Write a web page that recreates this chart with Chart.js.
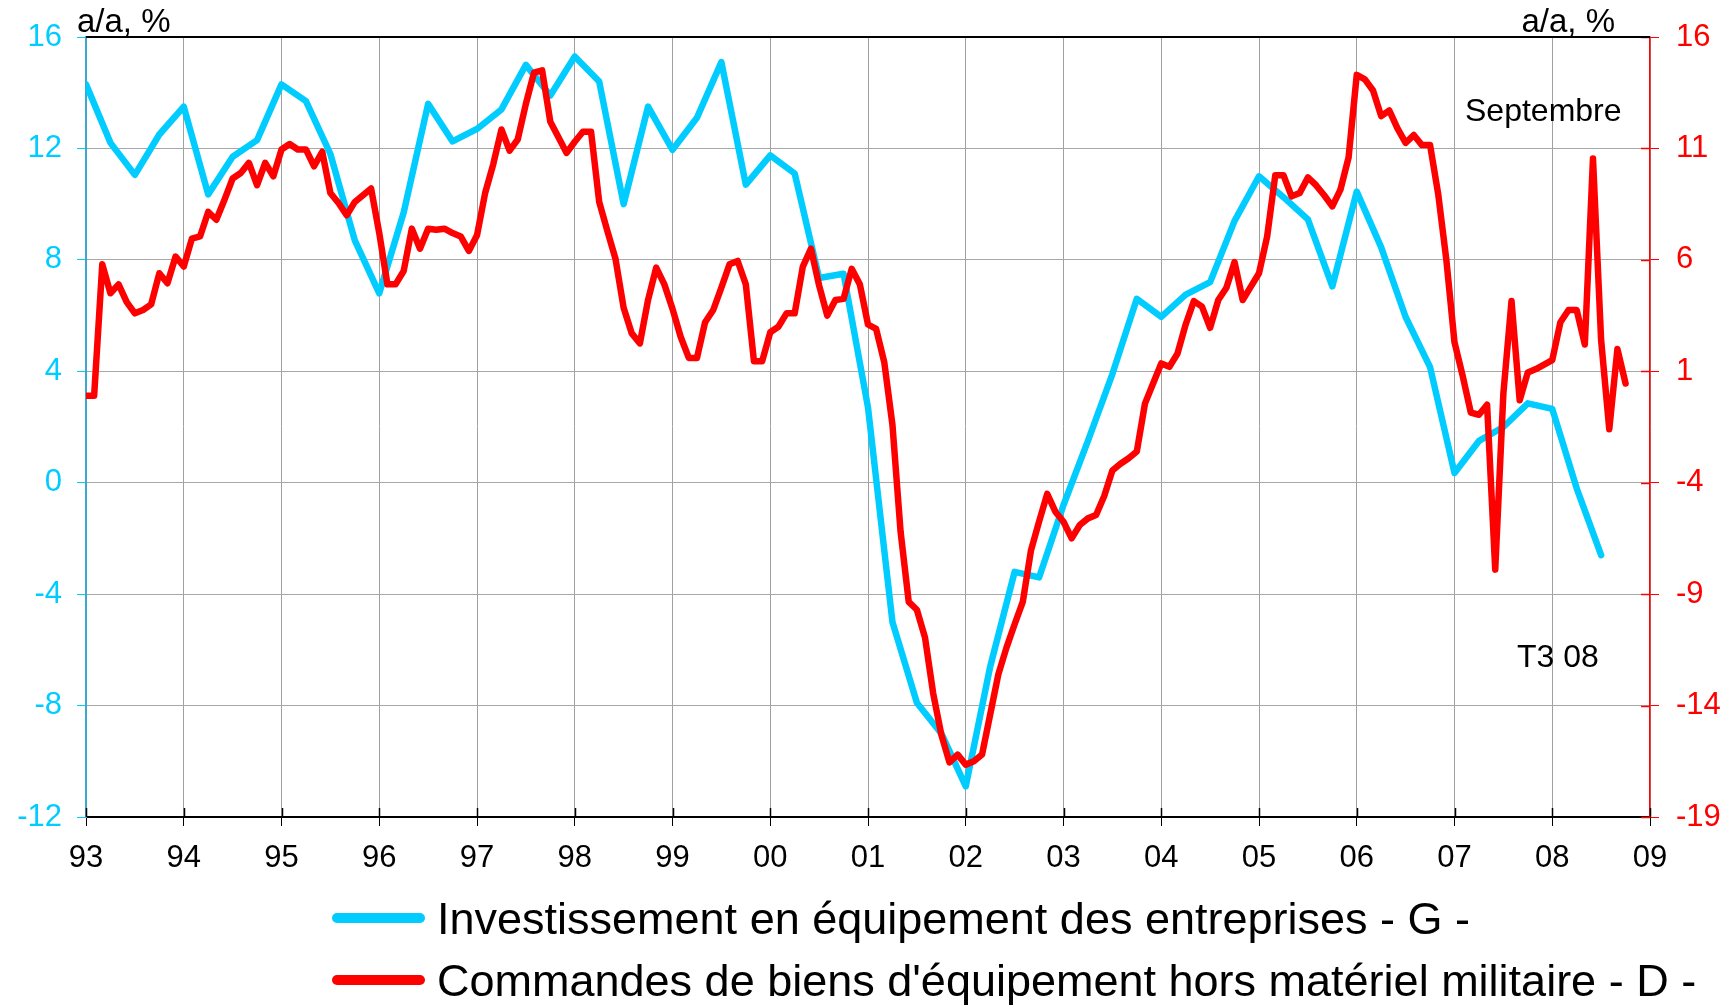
<!DOCTYPE html>
<html>
<head>
<meta charset="utf-8">
<script src="https://cdn.jsdelivr.net/npm/chart.js@4.4.0/dist/chart.umd.min.js"></script>
<style>
html, body { margin: 0; padding: 0; background: #fff; }
canvas { display: block; }
</style>
</head>
<body>
<canvas id="c" width="1733" height="1005"></canvas>
<script>
// Investissement en équipement - G - (a/a %), quarterly from T1 1993 to T3 2008, left axis
const investFirstYear = 1993;
const invest = [
    14.3, 12.2, 11.05, 12.5,
    13.5, 10.35, 11.7, 12.3,
    14.3, 13.7, 11.8, 8.7,
    6.8, 9.7, 13.6, 12.25,
    12.7, 13.4, 15.0, 13.9,
    15.3, 14.4, 10.0, 13.5,
    11.95, 13.1, 15.1, 10.7,
    11.75, 11.1, 7.35, 7.5,
    2.7, -5.0, -7.9, -9.0,
    -10.9, -6.6, -3.2, -3.4,
    -0.8, 1.5, 3.9, 6.6,
    5.95, 6.75, 7.2, 9.4,
    11.0, 10.25, 9.45, 7.05,
    10.45, 8.45, 5.95, 4.15,
    0.35, 1.5, 2.0, 2.85,
    2.65, -0.2, -2.6
];

// Commandes de biens d'équipement - D - (a/a %), monthly dec 1992 .. sept 2008, right axis
// each month is put at its end (dec 1992 ends on 1993.0)
const ordersFirstEnd = 1993;
const orders = [
    -0.1, -0.1, 5.8, 4.5, 4.9, 4.1, 3.6, 3.75, 4.0, 5.4, 4.95, 6.15,
    5.7, 6.95, 7.05, 8.15, 7.8, 8.7, 9.65, 9.9, 10.35, 9.35, 10.35, 9.75,
    10.95, 11.2, 10.95, 10.95, 10.2, 10.85, 9.0, 8.55, 8.0, 8.6, 8.9, 9.2,
    7.2, 4.9, 4.9, 5.5, 7.4, 6.5, 7.4, 7.35, 7.4, 7.2, 7.05, 6.4,
    7.1, 9.0, 10.3, 11.85, 10.9, 11.4, 13.0, 14.4, 14.5, 12.2, 11.5, 10.8,
    11.3, 11.75, 11.75, 8.6, 7.3, 6.05, 3.85, 2.7, 2.25, 4.2, 5.65, 4.9,
    3.8, 2.55, 1.6, 1.6, 3.2, 3.75, 4.75, 5.8, 5.95, 4.9, 1.45, 1.45,
    2.75, 3.0, 3.6, 3.6, 5.7, 6.5, 4.85, 3.5, 4.2, 4.25, 5.6, 4.9,
    3.1, 2.9, 1.4, -1.4, -6.2, -9.35, -9.7, -10.95, -13.45, -15.3, -16.55, -16.2,
    -16.65, -16.5, -16.2, -14.4, -12.6, -11.4, -10.35, -9.35, -7.05, -5.75, -4.5, -5.3,
    -5.75, -6.5, -5.9, -5.6, -5.45, -4.6, -3.45, -3.15, -2.9, -2.6, -0.45, 0.45,
    1.35, 1.2, 1.8, 3.1, 4.15, 3.9, 2.95, 4.2, 4.75, 5.9, 4.2, 4.8,
    5.4, 7.05, 9.8, 9.8, 8.85, 9.0, 9.7, 9.35, 8.9, 8.4, 9.15, 10.6,
    14.3, 14.1, 13.6, 12.45, 12.7, 11.9, 11.25, 11.6, 11.15, 11.15, 8.95, 6.0,
    2.3, 0.8, -0.85, -0.95, -0.5, -7.9, 0.0, 4.15, -0.3, 0.95, 1.1, 1.3,
    1.5, 3.2, 3.75, 3.75, 2.2, 10.55, 2.4, -1.6, 2.0, 0.45
];

const yearMin = 1993, yearMax = 2009;
const leftMin = -12, leftMax = 16, leftStep = 4;
const rightMin = -19, rightMax = 16, rightStep = 5;

const seriesNames = [
    "Investissement en équipement des entreprises - G -",
    "Commandes de biens d'équipement hors matériel militaire - D -"
];
const unitLabel = "a/a, %";
const noteMonth = "Septembre";
const noteQuarter = "T3 08";

const CYAN = "#00CCFF";
const RED = "#FF0000";
const FONT = '"Liberation Sans", Arial, sans-serif';

Chart.defaults.font.family = FONT;
Chart.defaults.font.size = 31;

const investPts = invest.map((v, i) => ({ x: investFirstYear + i / 4, y: v }));
const ordersPts = orders.map((v, i) => ({ x: ordersFirstEnd + i / 12, y: v }));

// tick marks also go a little inside the plot (x and right axis)
const innerTicks = {
    id: 'innerTicks',
    afterDatasetsDraw(chart) {
        const { ctx, chartArea: a, scales } = chart;
        ctx.save();
        ctx.lineWidth = 1.5;
        ctx.strokeStyle = "#000";
        scales.x.ticks.forEach(t => {
            const px = Math.round(scales.x.getPixelForValue(t.value)) + 0.5;
            ctx.beginPath();
            ctx.moveTo(px, a.bottom - 9);
            ctx.lineTo(px, a.bottom);
            ctx.stroke();
        });
        ctx.strokeStyle = RED;
        scales.y2.ticks.forEach(t => {
            const py = Math.round(scales.y2.getPixelForValue(t.value)) + 0.5;
            ctx.beginPath();
            ctx.moveTo(a.right - 9, py);
            ctx.lineTo(a.right, py);
            ctx.stroke();
        });
        ctx.restore();
    }
};

// frame top, texts and the two-line legend
const extras = {
    id: 'extras',
    afterDraw(chart) {
        const { ctx, chartArea: a } = chart;
        ctx.save();
        ctx.strokeStyle = "#000";
        ctx.lineWidth = 2;
        ctx.beginPath();
        ctx.moveTo(a.left, a.top);
        ctx.lineTo(a.right, a.top);
        ctx.stroke();

        ctx.fillStyle = "#000";
        ctx.font = '33px ' + FONT;
        ctx.textBaseline = 'alphabetic';
        ctx.textAlign = 'left';
        ctx.fillText(unitLabel, 77, 32);
        ctx.textAlign = 'right';
        ctx.fillText(unitLabel, 1615, 32);
        ctx.textAlign = 'left';
        ctx.font = '32px ' + FONT;
        ctx.fillText(noteMonth, 1465, 121);
        ctx.fillText(noteQuarter, 1517, 667);

        // legend
        ctx.font = '45px ' + FONT;
        chart.data.datasets.forEach((ds, k) => {
            const cy = 918 + k * 62;
            ctx.strokeStyle = ds.borderColor;
            ctx.lineWidth = 10;
            ctx.lineCap = 'round';
            ctx.beginPath();
            ctx.moveTo(337, cy);
            ctx.lineTo(420, cy);
            ctx.stroke();
            ctx.fillStyle = "#000";
            ctx.fillText(ds.label, 437, cy + 16);
        });
        ctx.restore();
    }
};

const chart = new Chart(document.getElementById('c'), {
    type: 'line',
    data: {
        datasets: [{
            label: seriesNames[0],
            data: investPts,
            yAxisID: 'y',
            borderColor: CYAN,
            borderWidth: 6.5,
            pointRadius: 0,
            borderJoinStyle: 'round',
            borderCapStyle: 'round',
            order: 1
        }, {
            label: seriesNames[1],
            data: ordersPts,
            yAxisID: 'y2',
            borderColor: RED,
            borderWidth: 6.5,
            pointRadius: 0,
            borderJoinStyle: 'round',
            borderCapStyle: 'round',
            order: 0
        }]
    },
    options: {
        responsive: false,
        animation: false,
        devicePixelRatio: 1,
        layout: { padding: { top: 37, left: 0, right: 0, bottom: 0 } },
        plugins: { legend: { display: false }, tooltip: { enabled: false } },
        scales: {
            x: {
                type: 'linear',
                min: yearMin, max: yearMax,
                afterFit: s => { s.height = 188; },
                ticks: {
                    stepSize: 1, autoSkip: false, maxTicksLimit: 30, maxRotation: 0,
                    color: "#000", padding: 14,
                    callback: v => String(v % 100).padStart(2, '0')
                },
                grid: { color: "#A0A0A0", lineWidth: 1, tickColor: "#000", tickLength: 9 },
                border: { color: "#000", width: 2 }
            },
            y: {
                position: 'left',
                min: leftMin, max: leftMax,
                afterFit: s => { s.width = 86; },
                ticks: { stepSize: leftStep, color: CYAN, padding: 15 },
                grid: { color: "#A8A8A8", lineWidth: 1, tickColor: CYAN, tickLength: 9 },
                border: { color: "#3AA9D0", width: 2 }
            },
            y2: {
                position: 'right',
                min: rightMin, max: rightMax,
                afterFit: s => { s.width = 83; },
                ticks: { stepSize: rightStep, color: RED, padding: 17 },
                grid: { drawOnChartArea: false, tickColor: RED, tickLength: 9 },
                border: { color: RED, width: 1.5 }
            }
        }
    },
    plugins: [innerTicks, extras]
});
</script>
</body>
</html>
